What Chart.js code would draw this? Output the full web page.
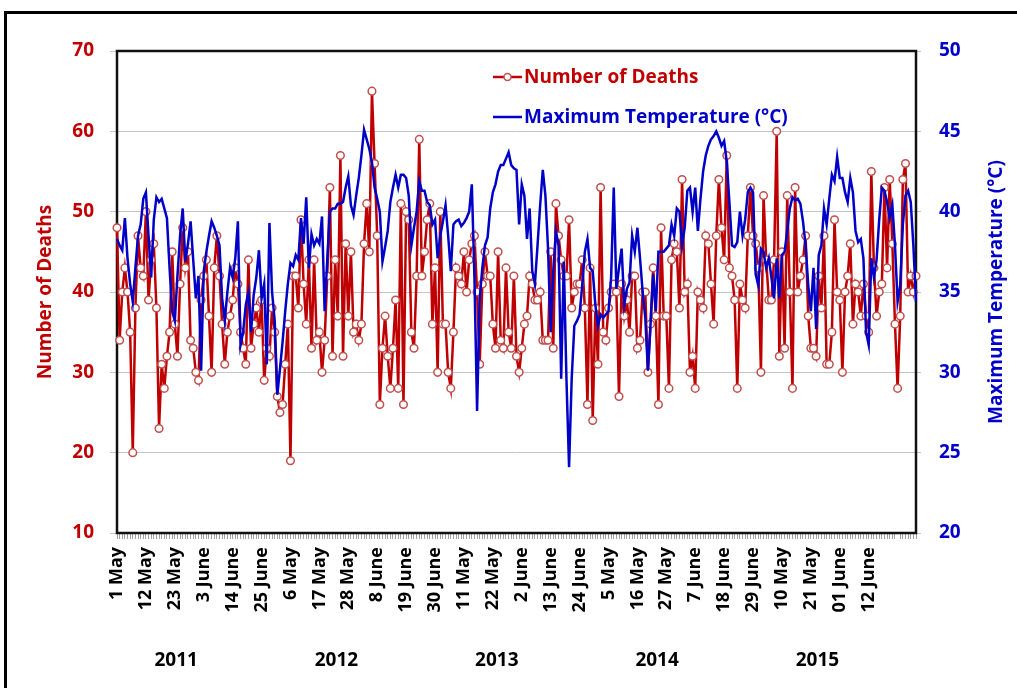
<!DOCTYPE html>
<html>
<head>
<meta charset="utf-8">
<script src="https://cdn.jsdelivr.net/npm/chart.js@4.4.1/dist/chart.umd.min.js"></script>
<style>
  html, body { margin: 0; padding: 0; background: #ffffff; }
  canvas { display: block; }
</style>
</head>
<body>
<canvas id="chart" width="1017" height="688"></canvas>
<script>
// Daily number of deaths, 1 May - 30 June of each year
const deaths2011 = [48,34,40,43,40,35,20,38,47,43,42,50,39,44,46,38,23,31,28,32,35,45,36,32,41,48,43,45,34,33,30,29,39,42,44,37,30,43,47,42,36,31,35,37,39,43,41,35,33,31,44,33,36,38,35,39,29,33,32,38,35];
const deaths2012 = [27,25,26,31,36,19,42,42,38,49,41,36,44,33,44,34,35,30,34,42,53,32,44,37,57,32,46,37,45,35,36,34,36,46,51,45,65,56,47,26,33,37,32,28,33,39,28,51,26,50,49,35,33,42,59,42,45,49,51,36,43];
const deaths2013 = [30,50,36,36,30,28,35,43,42,41,45,40,44,46,47,40,31,41,45,42,42,36,33,45,34,33,43,35,33,42,32,30,33,36,37,42,41,39,39,40,34,34,34,45,33,51,47,44,42,42,49,38,40,41,41,44,38,26,43,24,38];
const deaths2014 = [31,53,35,34,38,40,41,40,27,41,37,39,35,42,42,33,34,40,40,30,36,43,37,26,48,37,37,28,44,46,45,38,54,40,41,30,32,28,40,39,38,47,46,41,36,47,54,48,44,57,43,42,39,28,41,39,38,47,53,47,46];
const deaths2015 = [43,30,52,44,39,39,44,60,32,45,33,52,40,28,53,40,42,44,47,37,33,33,32,42,38,47,31,31,35,49,40,39,30,40,42,46,36,41,40,37,41,37,35,55,43,37,40,41,53,43,54,46,36,28,37,54,56,40,42,40,42];

// Daily maximum temperature (°C), same days
const tmax2011 = [38.3,37.9,37.6,39.6,37.1,35.5,34.4,36.5,38.5,39.2,40.8,41.2,38.5,35.9,39.5,40.9,40.6,40.8,40.2,39.6,36.5,33.8,33.2,36,38.5,40.2,36.9,38,39.4,37,34.6,36,30.1,36.3,37.5,38.5,39.4,39,38.5,37.9,34.6,33.2,35,36.5,35.9,37.1,39.4,31.7,32.5,34.2,35,32.5,34.8,35.9,37.6,34.6,35.5,30.5,39.3,35,33.2];
const tmax2012 = [28.6,30.2,31.9,33.8,35.5,36.8,36.6,37.3,37,39.6,38,40.9,36.5,38.6,37.9,38.3,38,39.7,33.8,37,40,40.2,40.2,40.5,40.5,40.6,41.5,42.2,40.4,39.8,41,42.1,43.5,45.1,44.5,43.9,43.1,41.5,40.8,40,36.9,37.8,38.8,40.6,41.5,42.3,41.5,42.3,42.3,42.1,41,37.9,39,40,41.9,41.3,41.3,40.6,40.4,39.2,39.5];
const tmax2013 = [37.1,38.5,39.4,40.4,38.5,36.3,39.2,39.4,39.5,39.1,39.3,39.6,40,41.7,35.9,27.6,34.6,36.5,37.9,38.4,40.2,41.2,41.7,42.5,42.9,42.9,43.3,43.7,42.9,42.7,42.6,39.2,41.7,41,38.3,40.2,36.3,35.5,37.9,40.4,42.6,41,37.7,32.5,36.3,38.8,37.9,29.6,36.9,29.6,24.1,29.6,32.9,33.2,33.6,35.4,37.5,38.3,36.5,36.3,34.2];
const tmax2014 = [32.9,33.6,33.4,33.6,33.8,35.9,41.5,35.2,36.5,37.7,34.2,35.2,35.6,38.5,37.5,39,37.1,35,33.4,30.1,33,36.1,33.8,37.5,37.5,37.5,37.7,37.9,39.2,38.5,40.2,40,37.9,39,41.3,41.5,40,41.5,38.8,40.8,42.5,43.5,44.1,44.5,44.7,45,44.6,44.1,44.4,43.1,40.6,37.9,37.8,38.1,40,38.5,39.5,41.2,41.5,41.2,36.1];
const tmax2015 = [35.4,37.7,37.5,36.5,37.1,35.9,34.6,37.1,34.6,37.3,37.5,38.8,40.2,40.9,40.7,40.8,40.5,39.4,37.9,35.4,33.8,36.5,32.7,37.3,37.9,40.2,39.2,40.8,42.3,41.9,43.4,42.1,42.1,41.2,40.6,42.1,41.2,38.8,38.1,38.3,37.1,32.5,31.7,37.1,35.9,37,39.5,41.5,41.3,40.6,39.6,40.4,37.9,34.4,35.4,39.2,41,41.3,40.6,37.9,34.4];

const years = ['2011', '2012', '2013', '2014', '2015'];
const tickLabels = ['1 May','12 May','23 May','3 June','14 June','25 June',
  '6 May','17 May','28 May','8 June','19 June','30 June',
  '11 May','22 May','2 June','13 June','24 June',
  '5 May','16 May','27 May','7 June','18 June','29 June',
  '10 May','21 May','01 June','12 June'];
const tickEvery = 11;

const deaths = [].concat(deaths2011, deaths2012, deaths2013, deaths2014, deaths2015);
const tmax = [].concat(tmax2011, tmax2012, tmax2013, tmax2014, tmax2015);

// one category per day: 31 days of May and 30 of June per year
const dayLabels = [];
years.forEach(y => {
  for (let d = 1; d <= 31; d++) dayLabels.push(d + ' May ' + y);
  for (let d = 1; d <= 30; d++) dayLabels.push(d + ' June ' + y);
});
const daysPerYear = dayLabels.length / years.length;

const RED = '#C00000';
const BLUE = '#0000C8';
const FONT = "'Open Sans', 'DejaVu Sans', sans-serif";

const decorPlugin = {
  id: 'decor',
  beforeDraw(chart) {
    const ctx = chart.ctx;
    ctx.save();
    ctx.fillStyle = '#ffffff';
    ctx.fillRect(0, 0, chart.width, chart.height);
    // figure border
    ctx.strokeStyle = '#000000';
    ctx.lineWidth = 3;
    ctx.strokeRect(5.5, 12.5, chart.width + 20, chart.height + 20);
    ctx.restore();
  },
  beforeDatasetsDraw(chart) {
    const { ctx, chartArea: a } = chart;
    ctx.save();
    ctx.strokeStyle = '#111111';
    ctx.lineWidth = 2.5;
    ctx.strokeRect(a.left, a.top, a.right - a.left, a.bottom - a.top);
    ctx.restore();
  },
  afterDraw(chart) {
    const { ctx, chartArea: a, scales } = chart;
    const midY = (a.top + a.bottom) / 2;
    ctx.save();
    ctx.font = 'bold 19px ' + FONT;
    ctx.textAlign = 'center';
    ctx.textBaseline = 'middle';

    // axis titles, both reading upwards
    ctx.fillStyle = RED;
    ctx.save();
    ctx.translate(46, midY);
    ctx.rotate(-Math.PI / 2);
    ctx.fillText('Number of Deaths', 0, 0);
    ctx.restore();

    ctx.fillStyle = BLUE;
    ctx.save();
    ctx.translate(997, midY);
    ctx.rotate(-Math.PI / 2);
    ctx.fillText('Maximum Temperature (°C)', 0, 0);
    ctx.restore();

    // year captions under the date ticks
    ctx.fillStyle = '#000000';
    ctx.font = 'bold 19px ' + FONT;
    years.forEach((y, k) => {
      const x = scales.x.getPixelForValue(k * daysPerYear + 22.5);
      ctx.fillText(y, x, 661);
    });

    // legend inside the plot area
    const ds = chart.data.datasets;
    const lx = 493, lw = 29, tx = 524;
    ctx.textAlign = 'left';
    ctx.font = 'bold 19px ' + FONT;
    const rows = [{ d: ds[0], y: 77, marker: true }, { d: ds[1], y: 117, marker: false }];
    rows.forEach(r => {
      ctx.strokeStyle = r.d.borderColor;
      ctx.lineWidth = 2.5;
      ctx.beginPath();
      ctx.moveTo(lx, r.y);
      ctx.lineTo(lx + lw, r.y);
      ctx.stroke();
      if (r.marker) {
        ctx.beginPath();
        ctx.arc(lx + lw / 2, r.y, 3.5, 0, Math.PI * 2);
        ctx.fillStyle = '#ffffff';
        ctx.fill();
        ctx.strokeStyle = r.d.pointBorderColor;
        ctx.lineWidth = 1.5;
        ctx.stroke();
      }
      ctx.fillStyle = r.d.borderColor;
      ctx.fillText(r.d.label, tx, r.y + 1);
    });
    ctx.restore();
  }
};

new Chart(document.getElementById('chart'), {
  type: 'line',
  data: {
    labels: dayLabels,
    datasets: [
      {
        label: 'Number of Deaths',
        data: deaths,
        yAxisID: 'y',
        borderColor: RED,
        borderWidth: 2.5,
        pointRadius: 3.8,
        pointBackgroundColor: '#ffffff',
        pointBorderColor: '#C0504D',
        pointBorderWidth: 1.5,
        tension: 0,
        order: 2
      },
      {
        label: 'Maximum Temperature (°C)',
        data: tmax,
        yAxisID: 'y1',
        borderColor: BLUE,
        borderWidth: 2.5,
        pointRadius: 0,
        tension: 0,
        order: 1
      }
    ]
  },
  options: {
    responsive: false,
    animation: false,
    devicePixelRatio: 1,
    layout: { padding: { top: 51, left: 0, right: 0, bottom: 0 } },
    plugins: { legend: { display: false }, tooltip: { enabled: false } },
    scales: {
      x: {
        type: 'category',
        offset: false,
        border: { display: false },
        grid: { display: true, drawOnChartArea: false, color: '#a0a0a0', tickLength: 6, tickWidth: 1 },
        ticks: {
          autoSkip: false,
          minRotation: 90,
          maxRotation: 90,
          padding: 8,
          color: '#000000',
          font: { family: FONT, size: 18, weight: 'bold' },
          callback: (v, i) => (i % tickEvery === 0 ? tickLabels[i / tickEvery] : '')
        },
        afterFit: s => { s.height = 155; }
      },
      y: {
        position: 'left',
        min: 10,
        max: 70,
        border: { display: false },
        grid: { color: '#c4c4c4', lineWidth: 1, tickLength: 7 },
        ticks: { stepSize: 10, padding: 16, color: RED, font: { family: FONT, size: 19, weight: 'bold' } },
        afterFit: s => { s.width = 117; }
      },
      y1: {
        position: 'right',
        min: 20,
        max: 50,
        border: { display: false },
        grid: { drawOnChartArea: false, color: '#c4c4c4', tickLength: 5 },
        ticks: { stepSize: 5, padding: 18, color: BLUE, font: { family: FONT, size: 19, weight: 'bold' } },
        afterFit: s => { s.width = 101; }
      }
    }
  },
  plugins: [decorPlugin]
});
</script>
</body>
</html>
